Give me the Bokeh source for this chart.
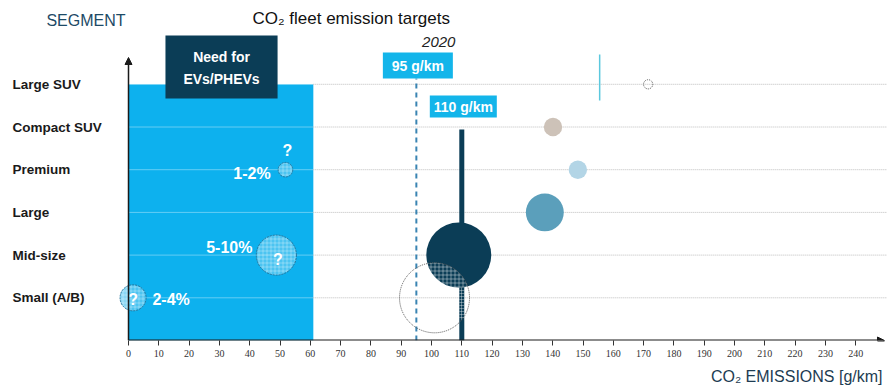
import numpy as np
from bokeh.plotting import figure
from bokeh.models import Range1d, FixedTicker, Label, Arrow, NormalHead, Title
from bokeh.core.properties import value
from bokeh.embed import file_html
from bokeh.resources import INLINE

# ---- data -------------------------------------------------------------
segments = ["Small (A/B)", "Mid-size", "Large", "Premium", "Compact SUV", "Large SUV"]
emissions = [101.0, 109.0, 137.4, 148.3, 140.1, 171.5]      # average g/km
volume = [116, 100, 34, 8, 8, 2]                            # relative sales volume

ev_segments = ["Small (A/B)", "Mid-size", "Premium"]
ev_emissions = [1.5, 48.8, 51.8]
ev_volume = [16, 38, 5]
ev_share = ["2-4%", "5-10%", "1-2%"]

target_2020 = 95
target_mid = 110
ev_zone_limit = 61
suv_marker = 155.5
x_ticks = list(range(0, 250, 10))

# ---- layout -----------------------------------------------------------
W, H = 887, 392
PX_PER_G = 3.03          # pixels per g/km
PX_PER_ROW = 42.7        # pixels per segment row
ORIGIN_PX = 128          # horizontal position of the 0 g/km axis
FRAME_H = 340
FONT = "Liberation Sans"
DARK = "#0B3D56"
CYAN = "#0DB1EE"
LABEL_BOX = "#13B5EA"

x_start = -ORIGIN_PX / PX_PER_G
x_end = (W - ORIGIN_PX) / PX_PER_G
y_top = FRAME_H / PX_PER_ROW

p = figure(width=W, height=H, x_range=Range1d(x_start, x_end), y_range=Range1d(0, y_top),
           output_backend="svg", toolbar_location=None, y_axis_location=None,
           min_border_left=0, min_border_right=0, min_border_top=0, min_border_bottom=H - FRAME_H)
p.outline_line_color = None
p.xgrid.visible = False
p.ygrid.visible = False
p.background_fill_color = "white"

row = {s: i + 1 for i, s in enumerate(segments)}
rows = [row[s] for s in segments]


def diameter(v):
    return 6.5 * np.sqrt(v)


# EV/PHEV zone
p.quad(left=0, right=ev_zone_limit, bottom=0, top=row["Large SUV"], fill_color=CYAN, line_color=None)

# dotted row guides
p.segment(x0=[0] * len(rows), x1=[ev_zone_limit] * len(rows), y0=rows, y1=rows,
          line_color="#E8F8FE", line_alpha=0.8, line_dash="1 1", line_width=1)
p.segment(x0=[ev_zone_limit] * len(rows), x1=[x_end] * len(rows), y0=rows, y1=rows,
          line_color="#BDBDBD", line_dash="1 1", line_width=1)

# 2020 fleet target
box_95_bottom = (FRAME_H - 78) / PX_PER_ROW
p.segment(x0=[target_2020], x1=[target_2020], y0=[0], y1=[box_95_bottom],
          line_color="#3A84B2", line_width=2, line_dash="5 4")

# mid-size target bar
p.segment(x0=[target_mid], x1=[target_mid], y0=[0], y1=[row["Compact SUV"] - 0.06],
          line_color=DARK, line_width=5)

# SUV marker
p.segment(x0=[suv_marker], x1=[suv_marker], y0=[(FRAME_H - 100) / PX_PER_ROW],
          y1=[(FRAME_H - 54) / PX_PER_ROW], line_color="#5BC8DE", line_width=1.5)

# segment bubbles
fills = {"Mid-size": DARK, "Large": "#5B9FBB", "Premium": "#B3D5E6", "Compact SUV": "#CDC2B8"}
filled = [s for s in segments if s in fills]
p.scatter(x=[emissions[segments.index(s)] for s in filled], y=[row[s] for s in filled],
          size=[diameter(volume[segments.index(s)]) for s in filled],
          fill_color=[fills[s] for s in filled], line_color=None)

hollow = [s for s in segments if s not in fills]
p.scatter(x=[emissions[segments.index(s)] for s in hollow], y=[row[s] for s in hollow],
          size=[diameter(volume[segments.index(s)]) for s in hollow],
          fill_color=None, line_color="#555555", line_dash="1 1", line_width=1)


# overlap of the small-car circle with the mid-size bubble, drawn cross-hatched
def ring(cx, cy, d, n=240):
    t = np.linspace(0, 2 * np.pi, n, endpoint=False)
    r = d / 2
    return cx + r * np.cos(t) / PX_PER_G, cy + r * np.sin(t) / PX_PER_ROW


def inside(x, y, cx, cy, d):
    return ((x - cx) * PX_PER_G) ** 2 + ((y - cy) * PX_PER_ROW) ** 2 <= (d / 2) ** 2


sa = ("Small (A/B)", emissions[0], row["Small (A/B)"], diameter(volume[0]))
mb = ("Mid-size", emissions[1], row["Mid-size"], diameter(volume[1]))
ax, ay = ring(sa[1], sa[2], sa[3])
bx, by = ring(mb[1], mb[2], mb[3])
ka = inside(ax, ay, mb[1], mb[2], mb[3])
kb = inside(bx, by, sa[1], sa[2], sa[3])
lx = np.concatenate([ax[ka], bx[kb]])
ly = np.concatenate([ay[ka], by[kb]])
cxm, cym = lx.mean(), ly.mean()
order = np.argsort(np.arctan2((ly - cym) * PX_PER_ROW, (lx - cxm) * PX_PER_G))
p.patch(x=lx[order], y=ly[order], fill_alpha=0, line_color=None,
        hatch_pattern="+", hatch_color="white", hatch_alpha=0.4, hatch_scale=4, hatch_weight=1)

# hatched part of the target bar inside the small-car circle
bar_top = mb[2] - (mb[3] / 2) / PX_PER_ROW
dx_px = (target_mid - sa[1]) * PX_PER_G
bar_bottom = sa[2] - np.sqrt((sa[3] / 2) ** 2 - dx_px ** 2) / PX_PER_ROW
half_bar = 2.5 / PX_PER_G
p.quad(left=target_mid - half_bar, right=target_mid + half_bar, bottom=bar_bottom, top=bar_top,
       fill_alpha=0, line_color=None, hatch_pattern="+", hatch_color="white",
       hatch_alpha=0.35, hatch_scale=3, hatch_weight=1)

# EV/PHEV share bubbles
ev_rows = [row[s] for s in ev_segments]
p.scatter(x=ev_emissions, y=ev_rows, size=[diameter(v) for v in ev_volume],
          fill_color="#62CBF2", fill_alpha=0.75, line_color="#23729A", line_dash="2 1",
          line_width=1, hatch_pattern="+", hatch_color="white", hatch_alpha=0.3,
          hatch_scale=4, hatch_weight=1)

# question marks
q_x = [ev_emissions[0], ev_emissions[1] + 0.5, ev_emissions[2] + 0.6]
q_y = [ev_rows[0] - 0.03, ev_rows[1] - 0.1, ev_rows[2] + 0.45]
p.text(x=q_x, y=q_y, text=["?", "?", "?"], text_align="center", text_baseline="middle",
       text_color="white", text_font=value(FONT), text_font_style="bold", text_font_size="16px")

# share labels
p.text(x=[7.9], y=[ev_rows[0] - 0.03], text=[ev_share[0]], text_align="left",
       text_baseline="middle", text_color="white", text_font=value(FONT),
       text_font_style="bold", text_font_size="16px")
p.text(x=[40.9, 46.9], y=[ev_rows[1] + 0.17, ev_rows[2] - 0.1], text=ev_share[1:],
       text_align="right", text_baseline="middle", text_color="white", text_font=value(FONT),
       text_font_style="bold", text_font_size="16px")

# segment names
p.text(x=[-38.3] * len(segments), y=rows, text=segments, text_align="left",
       text_baseline="middle", text_color="#1A1A1A", text_font=value(FONT),
       text_font_style="bold", text_font_size="13.5px")

# "Need for EVs/PHEVs" box
p.quad(left=12.2, right=49.2, bottom=(FRAME_H - 98) / PX_PER_ROW, top=(FRAME_H - 35) / PX_PER_ROW,
       fill_color=DARK, line_color=None)
p.text(x=[30.7, 30.7], y=[(FRAME_H - 56) / PX_PER_ROW, (FRAME_H - 78) / PX_PER_ROW],
       text=["Need for", "EVs/PHEVs"], text_align="center", text_baseline="middle",
       text_color="white", text_font=value(FONT), text_font_style="bold", text_font_size="14px")

# target value boxes
hw95 = 35 / PX_PER_G
p.quad(left=target_2020 + 0.5 - hw95, right=target_2020 + 0.5 + hw95,
       bottom=box_95_bottom, top=(FRAME_H - 52) / PX_PER_ROW, fill_color=LABEL_BOX, line_color=None)
p.text(x=[target_2020 + 0.5], y=[(FRAME_H - 65) / PX_PER_ROW], text=[f"{target_2020} g/km"],
       text_align="center", text_baseline="middle", text_color="white", text_font=value(FONT),
       text_font_style="bold", text_font_size="14px")
hw110 = 33.5 / PX_PER_G
p.quad(left=target_mid + 0.5 - hw110, right=target_mid + 0.5 + hw110,
       bottom=(FRAME_H - 117) / PX_PER_ROW, top=(FRAME_H - 95) / PX_PER_ROW,
       fill_color=LABEL_BOX, line_color=None)
p.text(x=[target_mid + 0.5], y=[(FRAME_H - 106) / PX_PER_ROW], text=[f"{target_mid} g/km"],
       text_align="center", text_baseline="middle", text_color="white", text_font=value(FONT),
       text_font_style="bold", text_font_size="14px")

# axes with arrow heads
head = dict(size=7, fill_color="#1A1A1A", line_color="#1A1A1A")
p.add_layout(Arrow(end=NormalHead(**head), x_start=0, y_start=0, x_end=249.5, y_end=0,
                   line_color="#1A1A1A", line_width=2))
p.add_layout(Arrow(end=NormalHead(**head), x_start=0, y_start=0, x_end=0,
                   y_end=(FRAME_H - 57) / PX_PER_ROW, line_color="#1A1A1A", line_width=1.5))

ax_ = p.xaxis[0]
ax_.ticker = FixedTicker(ticks=x_ticks)
ax_.axis_line_color = None
ax_.major_tick_in = 0
ax_.major_tick_out = 5
ax_.major_tick_line_color = "#333333"
ax_.minor_tick_line_color = None
ax_.major_label_standoff = 4
ax_.major_label_text_font = "Liberation Sans Narrow"
ax_.major_label_text_font_size = "10px"
ax_.major_label_text_color = "#333333"

# axis caption under the tick labels, right aligned
p.add_layout(Title(text="CO₂ EMISSIONS [g/km]", align="right", offset=5, standoff=12,
                   text_font=FONT, text_font_size="16px", text_font_style="normal",
                   text_color="#1D3C52"), "below")

# titles
p.add_layout(Label(x=-27.1, y=(FRAME_H - 20) / PX_PER_ROW, text="SEGMENT", text_align="left",
                   text_baseline="middle", text_font=FONT, text_font_size="16px",
                   text_color="#1D4A66"))
p.add_layout(Label(x=73.5, y=(FRAME_H - 18) / PX_PER_ROW, text="CO₂ fleet emission targets",
                   text_align="center", text_baseline="middle", text_font=FONT,
                   text_font_size="17px", text_color="#111111"))
p.add_layout(Label(x=107.9, y=(FRAME_H - 41) / PX_PER_ROW, text="2020", text_align="right",
                   text_baseline="middle", text_font=FONT, text_font_size="15px",
                   text_font_style="italic", text_color="#222222"))

open("out.html", "w").write(file_html(p, INLINE))
